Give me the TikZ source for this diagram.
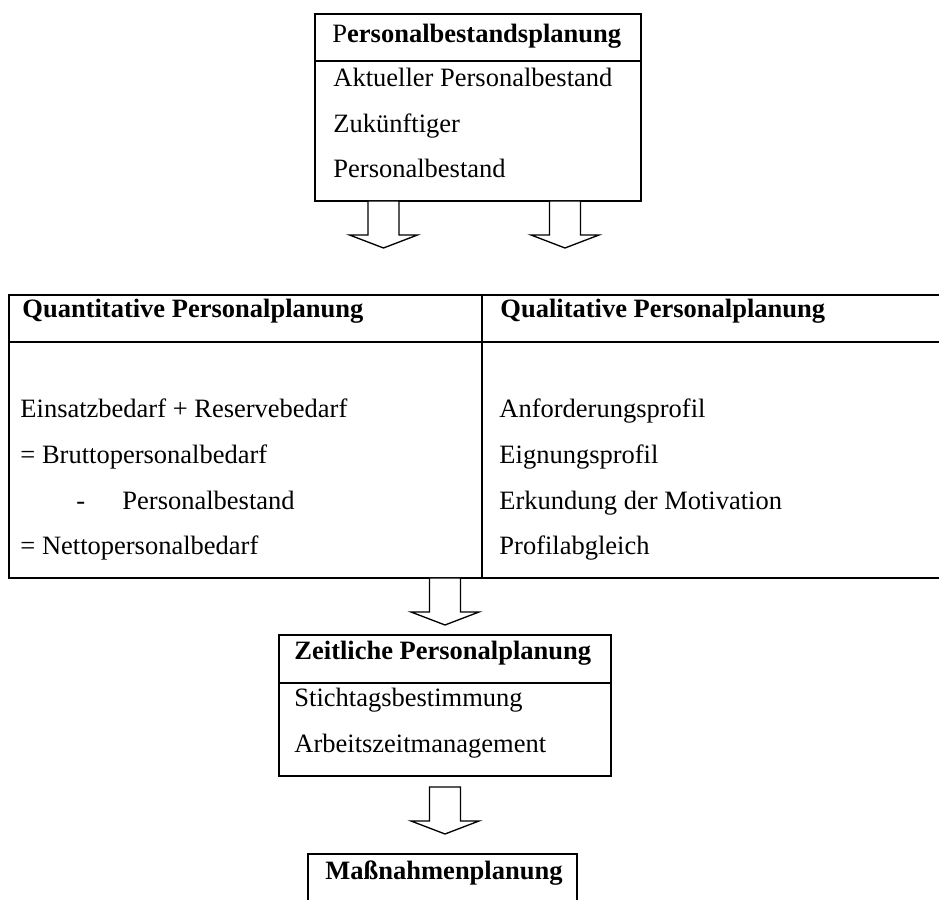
\documentclass[tikz,border=0pt]{standalone}
\usepackage{fontspec}
\setmainfont{Liberation Serif}
\tikzset{
  % --- frames and texts
  frame/.style = {line width=0.9pt, draw=black},
  txt/.style   = {anchor=base west, inner sep=0pt, font=\fontsize{12}{14}\selectfont},
  head/.style  = {txt, font=\fontsize{12}{14}\selectfont\bfseries},
  % --- hollow block arrow, top of the shaft at the origin
  blockdown/.pic = {
    \draw[line width=0.6pt, fill=white] (-15.5,0) -- (15.5,0) -- (15.5,34)
      -- (34,34) -- (0,47) -- (-34,34) -- (-15.5,34) -- cycle;
  },
}
\begin{document}
\begin{tikzpicture}[x=0.4528pt, y=-0.4528pt]
  \useasboundingbox (0,0) rectangle (939,900);

  % Personalbestandsplanung
  \draw[frame] (315,14) rectangle (641,201);
  \draw[frame] (315,61) -- (641,61);
  \node[txt] (pbh) at (332,43) {P\textbf{ersonalbestandsplanung}};
  \node[txt] (pb1) at (333,87) {Aktueller Personalbestand};
  \node[txt] (pb2) at (333,133) {Zukünftiger};
  \node[txt] (pb3) at (333,178) {Personalbestand};

  \coordinate (a1) at (383.5,201);
  \coordinate (a2) at (565,201);
  \pic at (a1) {blockdown};
  \pic at (a2) {blockdown};

  % quantitative / qualitative table
  \draw[frame] (939,295) -- (9,295) -- (9,578) -- (939,578);
  \draw[frame] (9,342) -- (939,342);
  \draw[frame] (482,295) -- (482,578);
  \node[head] (qnh) at (22,318) {Quantitative Personalplanung};
  \node[head] (qlh) at (500,318) {Qualitative Personalplanung};

  \node[txt] (qn1) at (20,418) {Einsatzbedarf + Reservebedarf};
  \node[txt] (qn2) at (20,464) {= Bruttopersonalbedarf};
  \node[txt] (qnd) at (76,510) {-};
  \node[txt] (qn3) at (122,510) {Personalbestand};
  \node[txt] (qn4) at (20,555) {= Nettopersonalbedarf};

  \node[txt] (ql1) at (499,418) {Anforderungsprofil};
  \node[txt] (ql2) at (499,464) {Eignungsprofil};
  \node[txt] (ql3) at (499,510) {Erkundung der Motivation};
  \node[txt] (ql4) at (499,555) {Profilabgleich};

  \coordinate (a3) at (445,578);
  \pic at (a3) {blockdown};

  % Zeitliche Personalplanung
  \draw[frame] (279,635) rectangle (611,776);
  \draw[frame] (279,683) -- (611,683);
  \node[head] (zph) at (294,660) {Zeitliche Personalplanung};
  \node[txt] (zp1) at (294,707) {Stichtagsbestimmung};
  \node[txt] (zp2) at (294,753) {Arbeitszeitmanagement};

  \coordinate (a4) at (445,787);
  \pic at (a4) {blockdown};

  % Massnahmenplanung
  \draw[frame] (308,905) -- (308,854) -- (577,854) -- (577,905);
  \node[head] (mnh) at (325,880) {Maßnahmenplanung};
\end{tikzpicture}
\end{document}
